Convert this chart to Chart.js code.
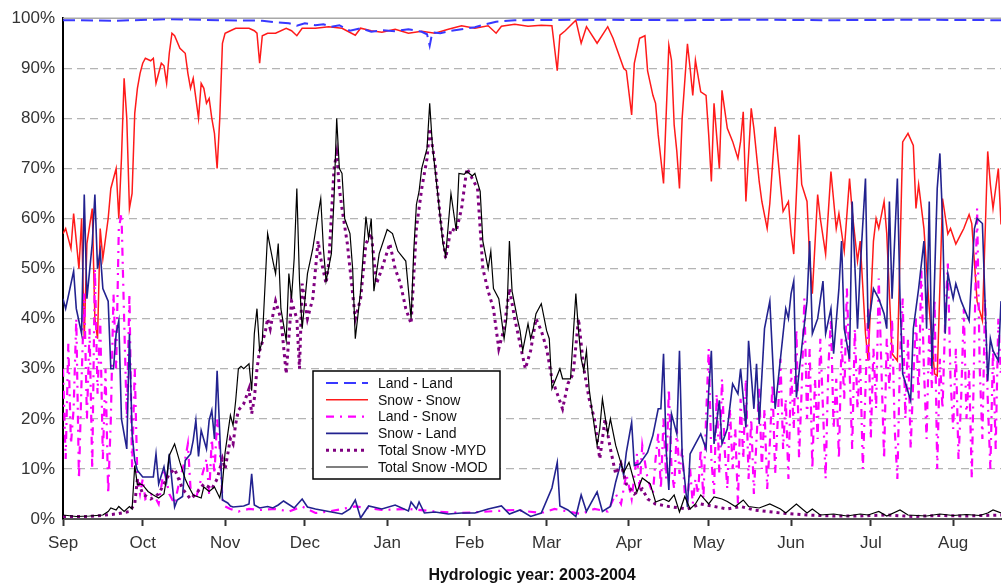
<!DOCTYPE html>
<html>
<head>
<meta charset="utf-8">
<title>Hydrologic year 2003-2004</title>
<script src="https://cdn.jsdelivr.net/npm/chart.js@4.4.0/dist/chart.umd.min.js"></script>
<style>
  html, body { margin: 0; padding: 0; background: #fff; }
</style>
</head>
<body>
<canvas id="myChart" width="1002" height="585"></canvas>
<script>
// days counted from 1 Sep 2003, values in % of area
var monthDays = [0, 30, 61, 91, 122, 153, 182, 213, 243, 274, 304, 335];
var monthLabels = ['Sep', 'Oct', 'Nov', 'Dec', 'Jan', 'Feb', 'Mar', 'Apr', 'May', 'Jun', 'Jul', 'Aug'];

var landLandDays = [0, 20, 40, 60, 75, 80, 85, 88, 91, 95, 98, 101, 104, 108, 112, 116, 120, 125, 130, 135, 137, 138, 139, 142, 146, 150, 155, 159, 163, 170, 200, 230, 260, 290, 320, 353];
var landLandPct  = [99.6, 99.5, 99.8, 99.6, 99.5, 99.2, 99, 98.5, 99, 98.6, 98.8, 98.3, 98.6, 97.5, 98, 97.3, 97.6, 97.4, 97.8, 97.3, 96.8, 94.5, 97.2, 97, 97.5, 97.8, 98.2, 98.8, 99.3, 99.6, 99.7, 99.6, 99.7, 99.6, 99.7, 99.6];

var snowSnowDays = [0, 1, 3, 4, 6, 7, 8, 9, 11, 12, 13, 14, 15, 17, 18, 20, 21, 22, 23, 24, 25, 26, 27, 28, 29, 30, 31, 33, 34, 35, 37, 38, 39, 40, 41, 42, 44, 46, 47, 48, 49, 51, 52, 53, 54, 55, 56, 57, 58, 59, 60, 61, 63, 65, 70, 72, 73, 74, 75, 77, 80, 84, 86, 88, 90, 95, 100, 105, 110, 112, 116, 120, 125, 130, 135, 140, 145, 150, 155, 160, 163, 165, 170, 175, 180, 184, 186, 187, 189, 193, 195, 197, 201, 205, 207, 209, 211, 212, 214, 215, 217, 219, 220, 222, 223, 224, 226, 228, 229, 230, 231, 232, 233, 235, 236, 237, 238, 240, 242, 243, 244, 245, 247, 248, 250, 252, 254, 255, 256, 257, 259, 260, 262, 263, 265, 266, 268, 270, 271, 273, 274, 275, 277, 278, 280, 281, 282, 284, 285, 287, 289, 291, 292, 294, 296, 297, 299, 300, 302, 303, 305, 306, 307, 309, 310, 312, 314, 316, 318, 320, 321, 322, 324, 326, 328, 329, 331, 333, 334, 336, 338, 339, 341, 342, 344, 346, 348, 349, 350, 352, 353];
var snowSnowPct  = [57, 58, 54, 61, 50, 60, 36, 55, 62, 40, 36, 58, 52, 60, 66, 70, 60, 72, 88, 80, 62, 65, 81, 86, 89, 91, 92, 91.5, 92, 87, 91, 90.5, 87, 93, 97, 96.5, 94, 93, 89, 86, 88, 80, 87, 86, 83, 84, 80, 77, 70, 80, 95, 97, 97.5, 98, 98, 97.5, 97, 91, 96.5, 97, 97, 98, 97.5, 96.5, 98, 98, 98.3, 98, 96.6, 98, 97.5, 97.2, 97.8, 97, 97.4, 97, 97.8, 98.5, 98, 98.5, 97, 98.4, 98.8, 98.4, 98.6, 98.5, 89.5, 96.6, 97.5, 99.6, 95, 98.3, 95, 98.3, 96, 93, 90, 89.5, 80.7, 91, 96, 96.5, 89.5, 84.6, 83, 76.7, 67, 94.6, 91.6, 78.7, 73.4, 66, 80, 94.9, 90, 84.6, 91.6, 85.3, 84.6, 76.7, 67.4, 83, 70, 85.6, 78, 75.4, 72, 75.4, 81.3, 63.4, 82, 78, 67.4, 63.4, 58, 63, 78.3, 66.7, 61.4, 63.4, 56.9, 52.9, 76.7, 66.8, 63.4, 52, 45, 64.8, 60, 52.9, 69.4, 58, 61, 53.5, 68, 61.4, 51.5, 55.5, 37, 31.6, 55.5, 60, 58, 63.4, 57, 33, 31.6, 75.3, 77, 74.6, 62, 66.8, 58, 42, 29, 28.6, 64, 56.9, 58, 54.9, 57, 58, 60.8, 59, 43.5, 39.6, 73.4, 66.8, 62, 70, 58.8];

var landSnowDays = [0, 1, 2, 3, 4, 5, 6, 7, 8, 9, 10, 11, 12, 13, 14, 15, 16, 17, 18, 19, 20, 21, 22, 23, 24, 25, 26, 27, 28, 29, 30, 31, 33, 35, 36, 38, 40, 42, 44, 46, 47, 48, 50, 52, 54, 55, 56, 57, 58, 59, 60, 61, 63, 66, 70, 74, 80, 85, 90, 95, 100, 110, 120, 130, 140, 150, 160, 170, 180, 185, 190, 195, 200, 205, 208, 210, 212, 214, 216, 217, 218, 220, 222, 223, 224, 225, 226, 227, 228, 229, 230, 231, 232, 233, 234, 235, 236, 237, 238, 239, 240, 241, 242, 243, 244, 245, 246, 247, 248, 249, 250, 251, 252, 253, 254, 255, 256, 257, 258, 259, 260, 261, 262, 263, 264, 265, 266, 267, 268, 269, 270, 271, 272, 273, 274, 275, 276, 277, 278, 279, 280, 281, 282, 283, 284, 285, 286, 287, 288, 289, 290, 291, 292, 293, 294, 295, 296, 297, 298, 299, 300, 301, 302, 303, 304, 305, 306, 307, 308, 309, 310, 311, 312, 313, 314, 315, 316, 317, 318, 319, 320, 321, 322, 323, 324, 325, 326, 327, 328, 329, 330, 331, 332, 333, 334, 335, 336, 337, 338, 339, 340, 341, 342, 343, 344, 345, 346, 347, 348, 349, 350, 351, 352, 353];
var landSnowPct  = [30, 12, 35, 15, 22, 40, 8, 28, 45, 20, 38, 10, 50, 25, 40, 12, 30, 5, 20, 45, 30, 58, 61, 40, 20, 45, 10, 30, 8, 5, 8, 4, 5, 4, 3, 10, 5, 3, 8, 12, 15, 6, 4, 8, 12, 5, 16, 9, 20, 14, 4, 2.5, 2, 1.5, 2, 1.8, 2, 1.5, 2.5, 1.2, 1.5, 2.5, 1.8, 2, 1.5, 1.2, 1.5, 1.8, 1.2, 2, 1.5, 1, 2, 1.5, 5, 3, 9, 4, 13, 6, 14.7, 8, 5, 12, 17, 6, 20, 8, 26, 10, 6, 18, 9, 14, 5, 4, 10, 3, 8, 5, 14, 4, 20, 34, 12, 5, 25, 9, 28, 14, 6, 22, 10, 18, 3, 24, 12, 28, 8, 20, 5, 16, 26, 10, 22, 6, 15, 27, 9, 20, 32, 14, 24, 8, 30, 18, 38, 12, 26, 44, 20, 34, 10, 28, 16, 36, 22, 8, 30, 40, 18, 28, 12, 36, 24, 46, 30, 14, 38, 22, 32, 10, 26, 42, 16, 34, 22, 48, 30, 12, 36, 26, 40, 18, 8, 32, 44, 20, 36, 14, 28, 40, 24, 50, 30, 16, 38, 26, 44, 10, 32, 22, 40, 51, 28, 18, 34, 12, 24, 42, 20, 30, 8, 36, 62, 30, 16, 44, 24, 10, 34, 14, 40, 28];

var snowLandDays = [0, 1, 3, 4, 5, 7, 8, 9, 11, 12, 13, 14, 15, 17, 18, 19, 20, 21, 22, 24, 25, 26, 27, 28, 30, 32, 34, 35, 36, 38, 39, 40, 41, 42, 43, 45, 46, 48, 49, 50, 51, 52, 54, 55, 56, 57, 58, 59, 60, 62, 63, 64, 68, 70, 71, 72, 74, 77, 79, 81, 83, 87, 90, 92, 95, 100, 105, 108, 110, 112, 115, 120, 125, 130, 131, 133, 134, 136, 140, 145, 150, 155, 160, 165, 168, 172, 176, 180, 184, 186, 187, 190, 193, 195, 197, 201, 203, 206, 208, 210, 211, 212, 214, 215, 217, 220, 222, 224, 225, 226, 227, 228, 229, 231, 232, 233, 235, 236, 237, 240, 242, 243, 244, 245, 247, 248, 250, 252, 254, 255, 257, 258, 260, 261, 262, 264, 266, 268, 270, 272, 273, 274, 275, 276, 278, 280, 281, 282, 284, 286, 287, 289, 290, 292, 293, 294, 296, 297, 299, 300, 302, 303, 305, 307, 309, 310, 311, 312, 314, 315, 316, 319, 320, 322, 324, 325, 326, 327, 329, 330, 331, 332, 333, 335, 336, 338, 341, 343, 344, 346, 348, 349, 350, 352, 353];
var snowLandPct  = [44, 42, 47, 49.5, 42, 37, 64.8, 44, 55, 64.8, 50, 53.5, 46, 43.5, 30, 30, 37, 39.6, 20, 14, 37, 17, 11.7, 9.7, 8.4, 8.4, 8.4, 13, 7, 10.4, 7.5, 13, 7.5, 2.4, 3.8, 4.5, 11.7, 13, 15.7, 19.7, 12.5, 17.7, 14, 19.7, 21.7, 16, 29.6, 17, 3.8, 3.2, 2.6, 2.4, 2.6, 3, 9, 2.8, 2.2, 2.5, 2.2, 2.8, 3.6, 2.2, 4, 2.4, 2, 1.5, 1, 2, 3.8, 0.2, 2.6, 2, 2.8, 1.6, 3.4, 2, 3.4, 1.2, 1.4, 1, 1.2, 1.2, 2, 2.6, 1, 1.8, 0.5, 1.2, 6.2, 11.3, 2.6, 1.8, 0.5, 4.8, 1.5, 5.4, 1.5, 2.5, 7.4, 11.3, 8.7, 13.3, 19.3, 10.7, 11, 13.3, 16.7, 22, 22, 33, 13.7, 5.8, 21, 17, 33.6, 13, 2.4, 13, 14, 17, 14, 25.6, 33.6, 15, 23.7, 15, 18, 27, 25, 30, 18.3, 35.6, 22, 31, 19, 38, 43.5, 22, 32, 42, 40, 45, 47.5, 24.3, 34.2, 43.5, 55.5, 37, 40, 47.5, 37, 42, 33, 46, 55.5, 38, 32, 63.4, 38, 50, 68, 38, 46, 44, 41, 38, 63.4, 44, 68, 44, 29, 23.7, 38, 46, 55.5, 38, 63.4, 30, 66, 73, 60, 37, 49, 44, 47, 43.5, 39.6, 58, 60, 59, 27.6, 36, 33.6, 31.6, 43.5];

var mydDays = [0, 10, 20, 25, 27, 28, 30, 33, 36, 38, 40, 42, 45, 48, 50, 53, 56, 58, 60, 61, 62, 63, 64, 65, 66, 68, 70, 71, 72, 73, 74, 76, 77, 78, 80, 82, 84, 86, 88, 89, 90, 92, 94, 96, 97, 99, 100, 102, 103, 104, 105, 107, 108, 110, 112, 114, 116, 118, 120, 123, 125, 127, 129, 131, 133, 135, 137, 138, 140, 142, 144, 146, 148, 150, 152, 154, 156, 158, 160, 162, 164, 166, 168, 170, 172, 174, 176, 178, 180, 182, 184, 186, 188, 190, 192, 194, 196, 198, 200, 202, 204, 206, 208, 210, 212, 215, 218, 220, 223, 228, 235, 240, 245, 250, 255, 260, 265, 270, 280, 290, 300, 310, 320, 330, 340, 353];
var mydPct  = [0.5, 0.5, 1, 1.5, 3, 8, 5, 4, 5, 7, 9, 10, 6, 4, 5, 7, 6, 8, 12, 10, 13, 16, 15, 19, 21.7, 23, 26, 21, 24, 30, 33.6, 37, 40, 38, 43.5, 40, 29, 43.5, 40, 30, 47, 40, 44, 55.5, 52, 47, 51, 70, 73, 66, 62, 55, 50, 40, 44, 55, 57, 47, 50, 55, 50, 47, 42, 39, 58, 66, 72, 78, 71, 60, 52, 58, 57.5, 62, 70, 68, 66, 50, 45.5, 42, 34, 38, 46, 40, 35, 30, 33.6, 40, 37.6, 34, 28, 25, 22, 27, 29, 40, 30, 24, 20, 12, 20, 14, 9, 11, 7, 5, 6, 4, 3, 2.5, 2, 3, 2.5, 2, 2.5, 1.8, 1.5, 1.2, 0.8, 0.6, 0.6, 0.8, 0.5, 0.7, 0.6, 0.8];

var modDays = [0, 5, 10, 15, 17, 18, 20, 21, 23, 25, 26, 27, 28, 29, 30, 32, 34, 36, 38, 39, 40, 42, 44, 46, 47, 49, 52, 53, 55, 57, 59, 60, 61, 63, 64, 65, 66, 67, 68, 70, 71, 72, 73, 74, 75, 77, 79, 80, 81, 82, 84, 85, 86, 87, 88, 89, 90, 92, 94, 96, 97, 98, 99, 101, 102, 103, 104, 105, 106, 108, 109, 110, 112, 114, 115, 116, 117, 119, 122, 124, 126, 129, 131, 132, 133, 134, 135, 137, 138, 139, 141, 143, 144, 146, 148, 149, 151, 152, 154, 155, 157, 158, 160, 161, 162, 164, 165, 166, 167, 168, 169, 171, 172, 173, 175, 176, 177, 178, 180, 182, 183, 184, 187, 188, 191, 193, 194, 195, 196, 197, 198, 199, 201, 202, 203, 205, 206, 208, 211, 213, 216, 218, 221, 223, 226, 228, 230, 232, 234, 236, 238, 240, 243, 245, 248, 250, 253, 256, 258, 262, 266, 270, 272, 276, 280, 282, 285, 290, 295, 300, 303, 307, 310, 315, 318, 325, 330, 335, 340, 345, 348, 350, 353];
var modPct  = [0.8, 0.5, 0.6, 0.8, 1.5, 2.2, 1.8, 2.5, 1.5, 2.5, 2, 10.7, 6.8, 7, 6.8, 5.5, 4.8, 4.2, 5, 8.2, 12.7, 15, 11.3, 8, 6.8, 4.8, 4.2, 6.4, 5.5, 6.4, 4.2, 7, 13.3, 20.7, 18.7, 23.7, 30, 30.5, 30, 31, 25.6, 37, 42, 33.6, 35.6, 57, 51.5, 49, 55, 42, 35.6, 49, 44, 52, 66, 47.5, 38, 49, 54, 60.8, 64, 54, 47.5, 53, 64, 80, 70, 69, 60, 57, 50, 36, 45.5, 60.4, 56, 60, 45.5, 53, 57.8, 57, 53.5, 51.5, 40, 53.5, 62.8, 65.4, 70, 74, 83, 74.7, 65, 55, 52.5, 65, 57.5, 69, 68.8, 69.4, 68.5, 69, 65.4, 55.5, 50, 53.5, 46, 44, 40, 36, 40, 55.5, 45.5, 40, 37.6, 33.6, 39, 36, 38, 41, 43, 37.6, 36, 26, 30, 28, 28, 45, 37.6, 32, 29.6, 33.6, 26, 22, 14.7, 18, 24, 17, 20, 14.7, 9.3, 11.3, 5.4, 8.2, 7, 3.4, 4, 3.5, 4.8, 1.4, 4.5, 2, 3, 4.8, 3, 4.4, 4, 3.5, 2.5, 3.8, 2.5, 2.2, 3, 2, 1.2, 3, 1.2, 2, 0.8, 1, 0.6, 1, 0.8, 1.5, 0.6, 1.8, 0.8, 0.6, 1, 0.7, 0.9, 0.7, 1.2, 1.8, 1.2];

function pts(days, vals) {
  return days.map(function (d, i) { return { x: d, y: vals[i] }; });
}

// legend box drawn inside the plot, like the original
var boxLegend = {
  id: 'boxLegend',
  afterDatasetsDraw: function (chart) {
    var ctx = chart.ctx;
    var x0 = 313, y0 = 371, w = 187, h = 108;
    ctx.save();
    ctx.fillStyle = '#fff';
    ctx.fillRect(x0, y0, w, h);
    ctx.strokeStyle = '#000';
    ctx.lineWidth = 1.5;
    ctx.strokeRect(x0, y0, w, h);
    chart.data.datasets.forEach(function (ds, i) {
      var y = y0 + 12 + i * 16.8;
      ctx.beginPath();
      ctx.setLineDash(ds.borderDash || []);
      ctx.strokeStyle = ds.borderColor;
      ctx.lineWidth = ds.borderWidth;
      ctx.moveTo(326, y);
      ctx.lineTo(368, y);
      ctx.stroke();
      ctx.setLineDash([]);
      ctx.fillStyle = '#111';
      ctx.font = '14px Arial, "Liberation Sans", sans-serif';
      ctx.textBaseline = 'middle';
      ctx.fillText(ds.label, 378, y + 1);
    });
    ctx.restore();
  }
};

// solid top edge of the plot
var topEdge = {
  id: 'topEdge',
  beforeDatasetsDraw: function (chart) {
    var a = chart.chartArea, ctx = chart.ctx;
    ctx.save();
    ctx.strokeStyle = '#a8a8a8';
    ctx.lineWidth = 1.5;
    ctx.beginPath();
    ctx.moveTo(a.left, a.top);
    ctx.lineTo(a.right, a.top);
    ctx.stroke();
    ctx.restore();
  }
};

var ctx = document.getElementById('myChart').getContext('2d');

var chart = new Chart(ctx, {
  type: 'line',
  data: {
    datasets: [{
      label: 'Land - Land',
      data: pts(landLandDays, landLandPct),
      borderColor: '#3838ff',
      borderDash: [12, 6],
      borderWidth: 2,
      order: 2
    }, {
      label: 'Snow - Snow',
      data: pts(snowSnowDays, snowSnowPct),
      borderColor: '#ff1a1a',
      borderWidth: 1.5,
      order: 5
    }, {
      label: 'Land - Snow',
      data: pts(landSnowDays, landSnowPct),
      borderColor: '#ff00ff',
      borderDash: [8, 6, 2, 6],
      borderWidth: 2.2,
      order: 4
    }, {
      label: 'Snow - Land',
      data: pts(snowLandDays, snowLandPct),
      borderColor: '#22228f',
      borderWidth: 1.6,
      order: 3
    }, {
      label: 'Total Snow -MYD',
      data: pts(mydDays, mydPct),
      borderColor: '#800080',
      borderDash: [3, 4],
      borderWidth: 3,
      order: 1
    }, {
      label: 'Total Snow -MOD',
      data: pts(modDays, modPct),
      borderColor: '#000000',
      borderWidth: 1.2,
      order: 0
    }]
  },
  options: {
    responsive: false,
    animation: false,
    layout: { padding: { top: 16, right: 1, left: 0, bottom: 0 } },
    elements: { point: { radius: 0 }, line: { tension: 0 } },
    plugins: {
      legend: { display: false },
      tooltip: { enabled: false }
    },
    scales: {
      x: {
        type: 'linear',
        min: 0,
        max: 353,
        afterFit: function (scale) { scale.height = 66; },
        afterBuildTicks: function (scale) {
          scale.ticks = monthDays.map(function (d) { return { value: d }; });
        },
        ticks: {
          autoSkip: false,
          maxRotation: 0,
          padding: 7,
          color: '#333',
          font: { size: 17, family: 'Arial, "Liberation Sans", sans-serif' },
          callback: function (value) {
            var i = monthDays.indexOf(value);
            return i >= 0 ? monthLabels[i] : '';
          }
        },
        grid: {
          drawOnChartArea: false,
          drawTicks: true,
          tickLength: 7,
          tickColor: '#333',
          tickWidth: 2
        },
        border: { display: true, color: '#555', width: 2 },
        title: {
          display: true,
          text: 'Hydrologic year: 2003-2004',
          color: '#111',
          font: { size: 16, weight: 'bold', family: 'Arial, "Liberation Sans", sans-serif' },
          padding: { top: 2, bottom: 0 }
        }
      },
      y: {
        min: 0,
        max: 100,
        afterFit: function (scale) { scale.width = 63; },
        ticks: {
          stepSize: 10,
          padding: 8,
          color: '#333',
          font: { size: 17, family: 'Arial, "Liberation Sans", sans-serif' },
          callback: function (value) { return value + '%'; }
        },
        grid: {
          drawTicks: false,
          lineWidth: 1.2,
          color: function (c) {
            return (c.tick && (c.tick.value === 0 || c.tick.value === 100)) ? 'rgba(0,0,0,0)' : '#b4b4b4';
          }
        },
        border: { display: true, color: '#000', width: 2, dash: [8, 5] }
      }
    }
  },
  plugins: [topEdge, boxLegend]
});
</script>
</body>
</html>
